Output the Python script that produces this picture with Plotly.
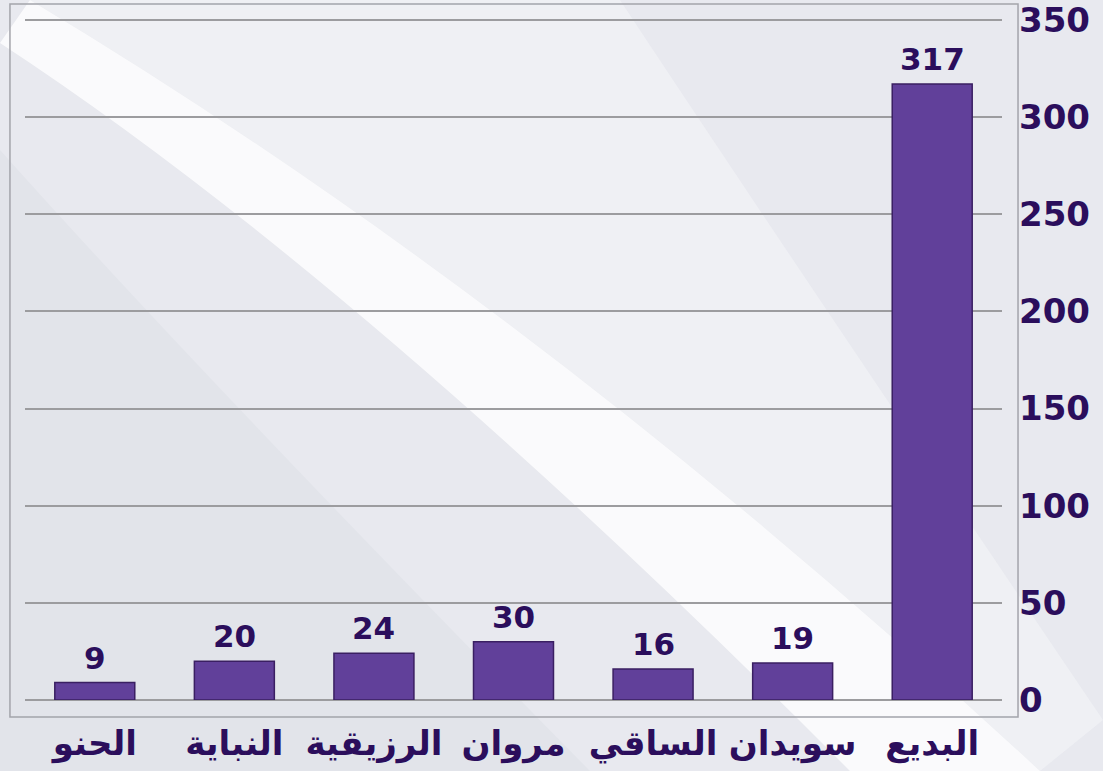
import plotly.graph_objects as go

# ---- data ----
categories = ["الحنو", "النباية", "الرزيقية", "مروان", "الساقي", "سويدان", "البديع"]
values = [9, 20, 24, 30, 16, 19, 317]
y_ticks = [0, 50, 100, 150, 200, 250, 300, 350]
y_tick_labels = ["0", "50", "100", "150", "200", "250", "300", "350"]

# ---- layout geometry (pixels) ----
W, H = 1103, 771
ML, MR, MT, MB = 25, 101, 17, 71
PW, PH = W - ML - MR, H - MT - MB


def P(px, py):
    return f"{(px - ML) / PW:.4f},{(H - MB - py) / PH:.4f}"


def band(l0, lmid, l1, r1, rmid, r0):
    """Curved band: left edge l0->l1 through lmid, right edge r1->r0 through rmid."""
    cl = (2 * lmid[0] - 0.5 * (l0[0] + l1[0]), 2 * lmid[1] - 0.5 * (l0[1] + l1[1]))
    cr = (2 * rmid[0] - 0.5 * (r0[0] + r1[0]), 2 * rmid[1] - 0.5 * (r0[1] + r1[1]))
    return ("M " + P(*l0) + " Q " + P(*cl) + " " + P(*l1) +
            " L " + P(*r1) + " Q " + P(*cr) + " " + P(*r0) + " Z")


TEXT = "#2b0e5c"
FONT = "DejaVu Sans"

fig = go.Figure()
fig.add_trace(go.Bar(
    x=categories,
    y=values,
    marker=dict(color="#61409a", line=dict(color="#3a1f62", width=1.5)),
    hoverinfo="skip",
))

annotations = [
    dict(x=c, y=v, xref="x", yref="y", text=str(v), showarrow=False,
         yanchor="bottom", yshift=5,
         font=dict(family=FONT, size=31, color=TEXT, weight="bold"))
    for c, v in zip(categories, values)
]

shapes = [
    # slightly darker lower-left region
    dict(type="path", xref="paper", yref="paper", layer="below",
         path=band((0, 150), (250, 420), (590, 771), (0, 771), (0, 600), (0, 150)),
         fillcolor="#e2e4ea", line=dict(width=0)),
    # faint light band right of main band
    dict(type="path", xref="paper", yref="paper", layer="below",
         path=band((30, 0), (535, 344), (1040, 771), (1103, 720), (820, 300), (620, 0)),
         fillcolor="#f0f1f5", opacity=0.85, line=dict(width=0)),
    # main white swoosh band
    dict(type="path", xref="paper", yref="paper", layer="below",
         path=band((0, 43), (394, 344), (850, 771), (1040, 771), (535, 344), (30, 0)),
         fillcolor="white", opacity=0.78, line=dict(width=0)),
    # frame border
    dict(type="path", xref="paper", yref="paper", layer="above",
         path="M " + P(10, 4) + " L " + P(1018, 4) + " L " + P(1018, 717) + " L " + P(10, 717) + " Z",
         fillcolor="rgba(0,0,0,0)", line=dict(color="#a3a4ab", width=1.5)),
]

fig.update_layout(
    width=W, height=H,
    margin=dict(l=ML, r=MR, t=MT, b=MB, pad=0, autoexpand=False),
    paper_bgcolor="#e8e9ef",
    plot_bgcolor="rgba(0,0,0,0)",
    showlegend=False,
    bargap=0.427,
    shapes=shapes,
    annotations=annotations,
    xaxis=dict(
        type="category",
        range=[-0.5, 6.5],
        automargin=False,
        showgrid=False, zeroline=False, showline=False, ticks="",
        tickfont=dict(family=FONT, size=34, color=TEXT, weight="bold"),
        ticklabelstandoff=20,
        fixedrange=True,
    ),
    yaxis=dict(
        side="right",
        range=[0, 351.5],
        automargin=False,
        tickvals=y_ticks, ticktext=y_tick_labels,
        showgrid=True, gridcolor="#9c9c9f", gridwidth=2,
        zeroline=True, zerolinecolor="#9c9c9f", zerolinewidth=2,
        showline=False, ticks="",
        tickfont=dict(family=FONT, size=34, color=TEXT, weight="bold"),
        ticklabelstandoff=16,
        ticklabeloverflow="allow",
        fixedrange=True,
    ),
)

fig.write_html("out.html", config={"displayModeBar": False})
